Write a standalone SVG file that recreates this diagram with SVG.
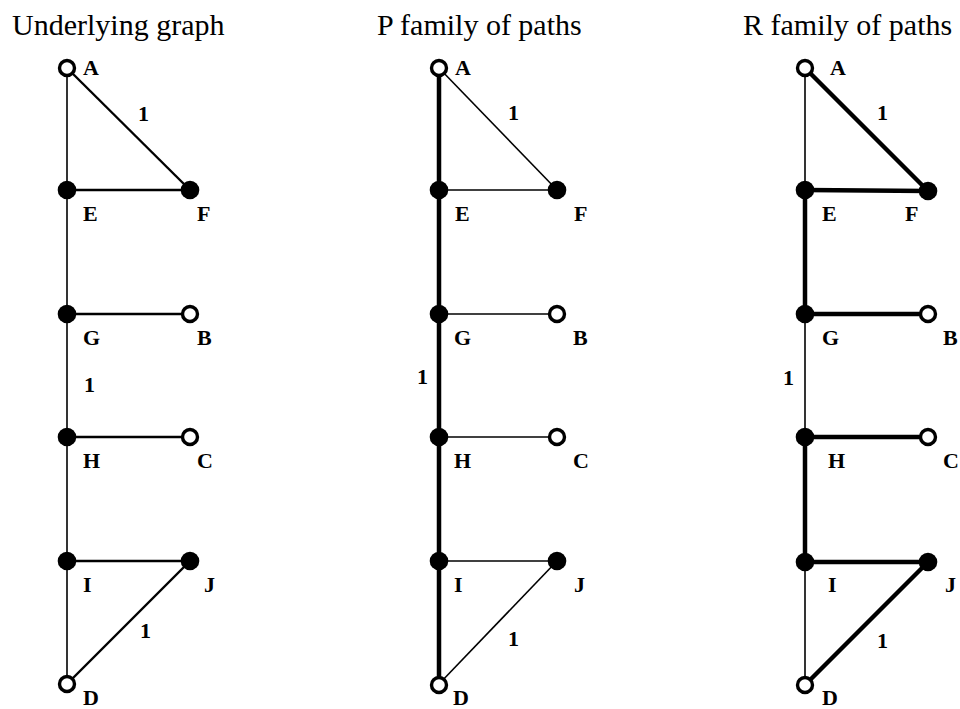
<svg xmlns="http://www.w3.org/2000/svg" width="960" height="709" viewBox="0 0 960 709">
<style>
.title{font-family:"Liberation Serif","Times New Roman",serif;font-size:30px;fill:#000}
.lbl{font-family:"Liberation Serif","Times New Roman",serif;font-size:22px;font-weight:bold;fill:#000}
.w{font-family:"Liberation Serif","Times New Roman",serif;font-size:22px;font-weight:bold;fill:#000}
.thin{stroke:#000;stroke-width:1.6;fill:none}
.mid{stroke:#000;stroke-width:2.4;fill:none}
.thick{stroke:#000;stroke-width:4.5;fill:none}
.open{fill:#fff;stroke:#000;stroke-width:3.4}
.full{fill:#000}
</style>
<rect width="960" height="709" fill="#fff"/>

<text class="title" x="12" y="35">Underlying graph</text>
<text class="title" x="377" y="35">P family of paths</text>
<text class="title" x="743" y="35">R family of paths</text>

<!-- Panel 1 connectors -->
<g id="edges-1">
<line class="thin" x1="67" y1="68" x2="67" y2="684"/>
<line class="mid" x1="67" y1="68" x2="190" y2="190"/>
<line class="mid" x1="67" y1="190" x2="190" y2="190"/>
<line class="mid" x1="67" y1="314" x2="190" y2="314"/>
<line class="mid" x1="67" y1="437" x2="190" y2="437"/>
<line class="mid" x1="67" y1="561" x2="190" y2="561"/>
<line class="mid" x1="67" y1="684" x2="190" y2="561"/>
<text class="w" x="138" y="121">1</text>
<text class="w" x="84" y="392">1</text>
<text class="w" x="140" y="638">1</text>
</g>
<g id="p1-A"><circle class="open" cx="67" cy="68" r="7.5"/><text class="lbl" x="83" y="75">A</text></g>
<g id="p1-E"><circle class="full" cx="67" cy="190" r="9.3"/><text class="lbl" x="83" y="221">E</text></g>
<g id="p1-F"><circle class="full" cx="190" cy="190" r="9.3"/><text class="lbl" x="197" y="221">F</text></g>
<g id="p1-G"><circle class="full" cx="67" cy="314" r="9.3"/><text class="lbl" x="83" y="345">G</text></g>
<g id="p1-B"><circle class="open" cx="190" cy="314" r="7.5"/><text class="lbl" x="197" y="345">B</text></g>
<g id="p1-H"><circle class="full" cx="67" cy="437" r="9.3"/><text class="lbl" x="83" y="468">H</text></g>
<g id="p1-C"><circle class="open" cx="190" cy="437" r="7.5"/><text class="lbl" x="197" y="468">C</text></g>
<g id="p1-I"><circle class="full" cx="67" cy="561" r="9.3"/><text class="lbl" x="83" y="592">I</text></g>
<g id="p1-J"><circle class="full" cx="190" cy="561" r="9.3"/><text class="lbl" x="204" y="592">J</text></g>
<g id="p1-D"><circle class="open" cx="67" cy="684" r="7.5"/><text class="lbl" x="83" y="705">D</text></g>

<!-- Panel 2 connectors -->
<g id="edges-2">
<line class="thick" x1="439" y1="68" x2="439" y2="684"/>
<line class="thin" x1="439" y1="68" x2="557" y2="190"/>
<line class="thin" x1="439" y1="190" x2="557" y2="190"/>
<line class="thin" x1="439" y1="314" x2="557" y2="314"/>
<line class="thin" x1="439" y1="437" x2="557" y2="437"/>
<line class="thin" x1="439" y1="561" x2="557" y2="561"/>
<line class="thin" x1="439" y1="684" x2="557" y2="561"/>
<text class="w" x="508" y="120">1</text>
<text class="w" x="417" y="384">1</text>
<text class="w" x="508" y="646">1</text>
</g>
<g id="p2-A"><circle class="open" cx="439" cy="68" r="7.5"/><text class="lbl" x="455" y="75">A</text></g>
<g id="p2-E"><circle class="full" cx="439" cy="190" r="9.3"/><text class="lbl" x="455" y="221">E</text></g>
<g id="p2-F"><circle class="full" cx="557" cy="190" r="9.3"/><text class="lbl" x="574" y="221">F</text></g>
<g id="p2-G"><circle class="full" cx="439" cy="314" r="9.3"/><text class="lbl" x="454" y="345">G</text></g>
<g id="p2-B"><circle class="open" cx="557" cy="314" r="7.5"/><text class="lbl" x="573" y="345">B</text></g>
<g id="p2-H"><circle class="full" cx="439" cy="437" r="9.3"/><text class="lbl" x="454" y="468">H</text></g>
<g id="p2-C"><circle class="open" cx="557" cy="437" r="7.5"/><text class="lbl" x="573" y="468">C</text></g>
<g id="p2-I"><circle class="full" cx="439" cy="561" r="9.3"/><text class="lbl" x="454" y="592">I</text></g>
<g id="p2-J"><circle class="full" cx="557" cy="561" r="9.3"/><text class="lbl" x="574" y="592">J</text></g>
<g id="p2-D"><circle class="open" cx="439" cy="685" r="7.5"/><text class="lbl" x="453" y="705">D</text></g>

<!-- Panel 3 connectors -->
<g id="edges-3">
<line class="thin" x1="805" y1="68" x2="805" y2="190"/>
<line class="thick" x1="805" y1="68" x2="928" y2="191"/>
<line class="thick" x1="805" y1="190" x2="928" y2="191"/>
<line class="thick" x1="805" y1="190" x2="805" y2="314"/>
<line class="thick" x1="805" y1="314" x2="928" y2="314"/>
<line class="thin" x1="805" y1="314" x2="805" y2="437"/>
<line class="thick" x1="805" y1="437" x2="928" y2="437"/>
<line class="thick" x1="805" y1="437" x2="805" y2="562"/>
<line class="thick" x1="805" y1="562" x2="928" y2="562"/>
<line class="thin" x1="805" y1="562" x2="805" y2="685"/>
<line class="thick" x1="805" y1="685" x2="928" y2="562"/>
<text class="w" x="877" y="120">1</text>
<text class="w" x="783" y="385">1</text>
<text class="w" x="877" y="648">1</text>
</g>
<g id="p3-A"><circle class="open" cx="805" cy="68" r="7.5"/><text class="lbl" x="830" y="75">A</text></g>
<g id="p3-E"><circle class="full" cx="805" cy="190" r="9.3"/><text class="lbl" x="822" y="221">E</text></g>
<g id="p3-F"><circle class="full" cx="928" cy="191" r="9.3"/><text class="lbl" x="905" y="221">F</text></g>
<g id="p3-G"><circle class="full" cx="805" cy="314" r="9.3"/><text class="lbl" x="822" y="345">G</text></g>
<g id="p3-B"><circle class="open" cx="928" cy="314" r="7.5"/><text class="lbl" x="943" y="345">B</text></g>
<g id="p3-H"><circle class="full" cx="805" cy="437" r="9.3"/><text class="lbl" x="828" y="468">H</text></g>
<g id="p3-C"><circle class="open" cx="928" cy="437" r="7.5"/><text class="lbl" x="943" y="468">C</text></g>
<g id="p3-I"><circle class="full" cx="805" cy="562" r="9.3"/><text class="lbl" x="828" y="592">I</text></g>
<g id="p3-J"><circle class="full" cx="928" cy="562" r="9.3"/><text class="lbl" x="945" y="592">J</text></g>
<g id="p3-D"><circle class="open" cx="805" cy="685" r="7.5"/><text class="lbl" x="822" y="705">D</text></g>
</svg>
